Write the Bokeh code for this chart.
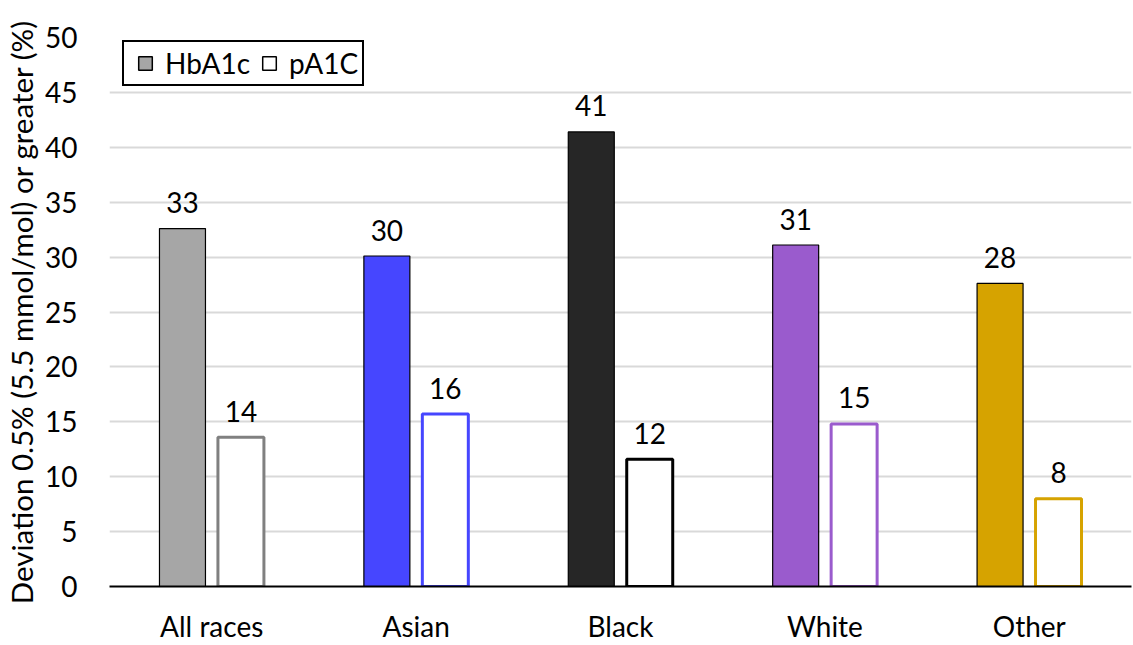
from bokeh.plotting import figure
from bokeh.models import (ColumnDataSource, FactorRange, Range1d, SingleIntervalTicker,
                          Legend, LegendItem)
from bokeh.transform import dodge
from bokeh.core.properties import value
from bokeh.embed import file_html
from bokeh.resources import INLINE

# Share of measurements deviating by 0.5% (5.5 mmol/mol) or more, by race
categories = ["All races", "Asian", "Black", "White", "Other"]
hba1c = [32.6, 30.1, 41.4, 31.1, 27.6]
pa1c = [13.6, 15.7, 11.6, 14.8, 8.0]
group_colors = ["#A6A6A6", "#4646FF", "#262626", "#9A5BCD", "#D6A300"]
outline_colors = ["#808080", "#4646FF", "#000000", "#9A5BCD", "#D6A300"]
y_title = "Deviation 0.5% (5.5 mmol/mol) or greater (%)"

FONT = "Lato"
FS = "28px"

src = ColumnDataSource(dict(
    cat=categories,
    hba1c=hba1c,
    pa1c=pa1c,
    hba1c_lbl=[str(round(v)) for v in hba1c],
    pa1c_lbl=[str(round(v)) for v in pa1c],
    fill=group_colors,
    edge=outline_colors,
))

p = figure(width=1133, height=645, x_range=FactorRange(*categories, range_padding=0),
           y_range=Range1d(0, 50), output_backend="svg", toolbar_location=None,
           min_border_left=109, min_border_right=2, min_border_top=37, min_border_bottom=59)
p.outline_line_color = None
p.background_fill_color = "white"

off = 0.143
bw = 0.225
p.vbar(x=dodge("cat", -off, range=p.x_range), top="hba1c", width=bw, bottom=0,
       source=src, fill_color="fill", line_color="black", line_width=1.2)
p.vbar(x=dodge("cat", off, range=p.x_range), top="pa1c", width=bw, bottom=0,
       source=src, fill_color="white", line_color="edge", line_width=3)

p.text(x=dodge("cat", -off, range=p.x_range), y="hba1c", text="hba1c_lbl", source=src,
       text_align="center", text_baseline="alphabetic", y_offset=-26,
       text_font=value(FONT), text_font_size=FS, text_color="black")
p.text(x=dodge("cat", off, range=p.x_range), y="pa1c", text="pa1c_lbl", source=src,
       text_align="center", text_baseline="alphabetic", y_offset=-26,
       text_font=value(FONT), text_font_size=FS, text_color="black")

# Legend swatches (single point kept below the visible range)
sw_h = p.scatter(x=["All races"], y=[-100], marker="square", size=14,
                 fill_color="#A6A6A6", line_color="black", line_width=1.5)
sw_p = p.scatter(x=["All races"], y=[-100], marker="square", size=14,
                 fill_color="white", line_color="black", line_width=1.5)
legend = Legend(items=[LegendItem(label="HbA1c", renderers=[sw_h]),
                       LegendItem(label="pA1C", renderers=[sw_p])],
                orientation="horizontal", location=(13, 500),
                border_line_color="black", border_line_width=2, border_line_alpha=1,
                label_text_font=FONT, label_text_font_size=FS, label_text_color="black",
                glyph_width=34, glyph_height=34, padding=4, spacing=2,
                label_standoff=3, margin=0, background_fill_alpha=1)
p.add_layout(legend)

# Axes
p.yaxis.ticker = SingleIntervalTicker(interval=5)
p.yaxis.axis_line_color = None
p.yaxis.major_tick_line_color = None
p.yaxis.minor_tick_line_color = None
p.yaxis.major_label_text_font = FONT
p.yaxis.major_label_text_font_size = FS
p.yaxis.major_label_text_color = "black"
p.yaxis.major_label_standoff = 26
p.yaxis.axis_label = y_title
p.yaxis.axis_label_text_font = FONT
p.yaxis.axis_label_text_font_size = "29.5px"
p.yaxis.axis_label_text_font_style = "normal"
p.yaxis.axis_label_text_color = "black"
p.yaxis.axis_label_standoff = 3

p.xaxis.axis_line_color = "black"
p.xaxis.axis_line_width = 2
p.xaxis.major_tick_line_color = None
p.xaxis.minor_tick_line_color = None
p.xaxis.major_label_text_font = FONT
p.xaxis.major_label_text_font_size = FS
p.xaxis.major_label_text_color = "black"
p.xaxis.major_label_standoff = 16

p.xgrid.grid_line_color = None
p.ygrid.grid_line_color = "#D9D9D9"
p.ygrid.grid_line_width = 2

open("out.html", "w").write(file_html(p, INLINE))
